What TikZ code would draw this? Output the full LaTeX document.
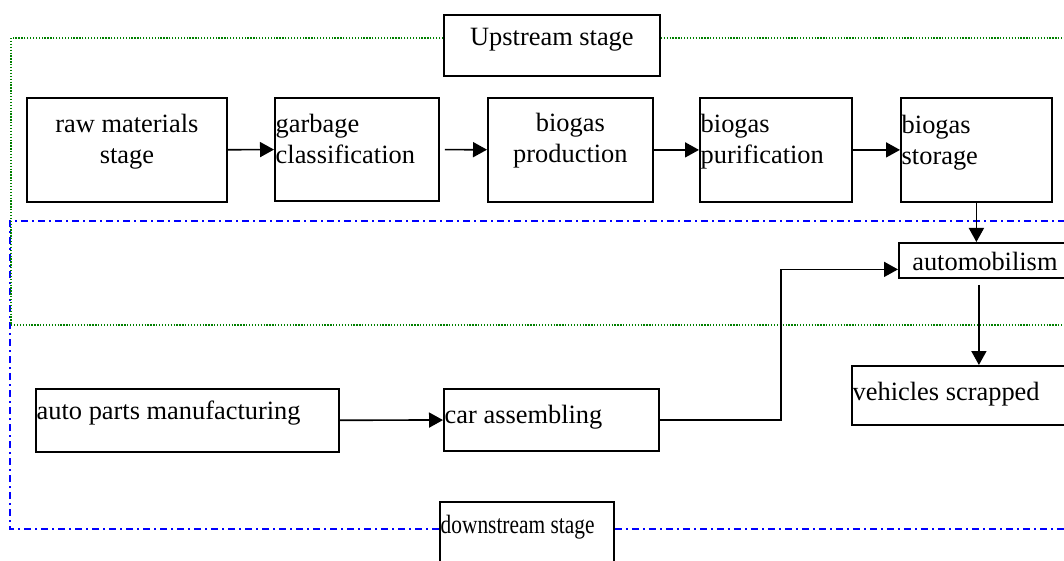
\documentclass[tikz,border=0pt]{standalone}
\usepackage{fontspec}
\setmainfont{Liberation Serif}
\usetikzlibrary{arrows.meta,positioning}

\definecolor{upgreen}{RGB}{0,128,0}

\begin{document}
\begin{tikzpicture}[x=1pt, y=-1pt,
    every label/.style={font=\fontsize{26.4}{31}\selectfont, inner sep=0pt},
    stagebox/.style={draw, line width=1.8pt, anchor=north west, inner sep=0pt},
    ctext/.style n args={2}{label={[anchor=north, align=center, yshift=-#1]north:{#2}}},
    ltext/.style n args={2}{label={[anchor=north west, align=left, xshift=1.5pt, yshift=-#1]north west:{#2}}},
    flow/.style={line width=1.7pt, -{Triangle[length=14pt, width=15pt]}},
    upzone/.style={upgreen, line width=1.3pt, dash pattern=on 1.3pt off 1.6pt},
    downzone/.style={blue, line width=1.8pt, dash pattern=on 7pt off 4pt on 2pt off 4pt}]

    \useasboundingbox (0,0) rectangle (1064,561);

    % stage labels
    \node[stagebox, minimum width=216pt, minimum height=61pt, ctext={14pt}{Upstream stage}] (up) at (443,14) {};
    \node[stagebox, minimum width=174pt, minimum height=80pt, ltext={14pt}{\scalebox{0.81}[1]{downstream stage}}] (down) at (439,501) {};

    % zone borders
    \draw[downzone] (down.west |- 0,529) -- (10,529) -- (10,221) -- (1064,221);
    \draw[downzone] (down.east |- 0,529) -- (1064,529);
    \draw[upzone] (up.west |- 0,38) -- (11,38) -- (11,325) -- (1064,325);
    \draw[upzone] (up.east |- 0,38) -- (1064,38);

    % biogas chain
    \node[stagebox, minimum width=200pt, minimum height=104pt, ctext={17pt}{raw materials\\stage}] (raw) at (26,97) {};
    \node[stagebox, minimum width=164pt, minimum height=103pt, ltext={17pt}{garbage\\classification}] (garb) at (274,97) {};
    \node[stagebox, minimum width=165pt, minimum height=104pt, ctext={16pt}{biogas\\production}] (prod) at (487,97) {};
    \node[stagebox, minimum width=152pt, minimum height=104pt, ltext={17pt}{biogas\\purification}] (puri) at (699,97) {};
    \node[stagebox, minimum width=151pt, minimum height=104pt, ltext={18pt}{biogas\\storage}] (stor) at (900,97) {};

    % vehicle chain
    \node[stagebox, minimum width=172pt, minimum height=35pt, ctext={10pt}{automobilism}] (auto) at (898,242) {};
    \node[stagebox, minimum width=254pt, minimum height=59pt, ltext={17pt}{vehicles scrapped}] (veh) at (851,365) {};
    \node[stagebox, minimum width=303pt, minimum height=63pt, ltext={13pt}{auto parts manufacturing}] (parts) at (35,388) {};
    \node[stagebox, minimum width=215pt, minimum height=62pt, ltext={17pt}{car assembling}] (car) at (443,388) {};

    % arrows
    \draw[flow] (raw) -- (garb);
    \draw[flow, shorten <=5pt] (garb) -- (prod);
    \draw[flow] (prod) -- (puri);
    \draw[flow] (puri) -- (stor);
    \draw[flow] (stor) -- (stor.south |- auto.north);
    \draw[flow] (parts) -- (car);
    \draw[flow] (car.east) -- ++(121,0) |- ([yshift=-9pt]auto.west);
    \draw[flow, shorten <=6pt] (auto.south -| veh.north) -- (veh.north);
\end{tikzpicture}
\end{document}
